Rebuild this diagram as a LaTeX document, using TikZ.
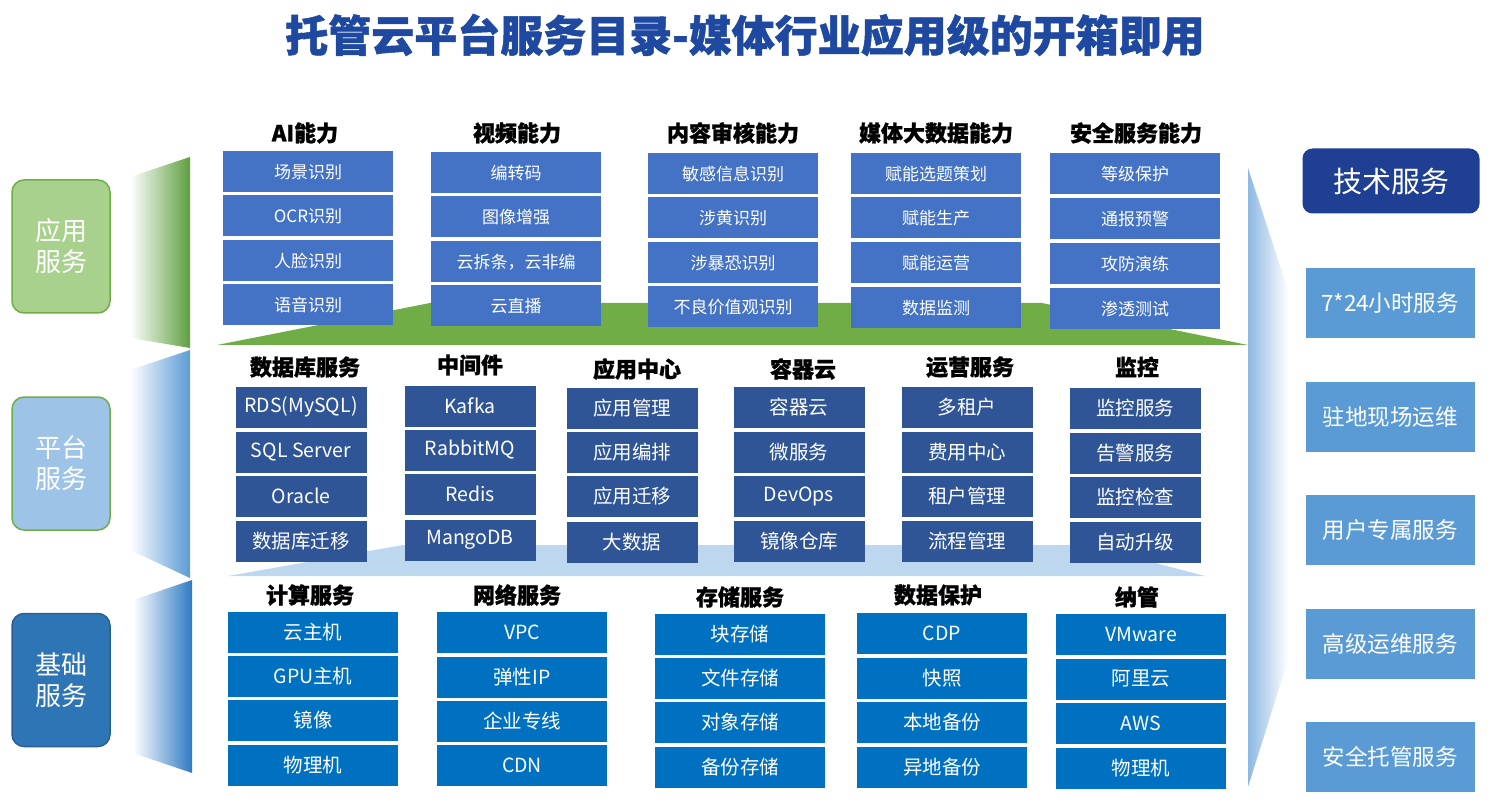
\documentclass[tikz,border=0pt]{standalone}
\usepackage{fontspec}
\setmainfont{Noto Sans CJK SC}
\newfontfamily\heavyfont{Noto Sans CJK SC}[BoldFeatures={FakeBold=1.2}]
\definecolor{titleblue}{HTML}{1F49A0}
\definecolor{appblue}{HTML}{4472C4}
\definecolor{platblue}{HTML}{2F5597}
\definecolor{baseblue}{HTML}{0070C0}
\definecolor{techdark}{HTML}{1F3F93}
\definecolor{techlight}{HTML}{5B9BD5}
\definecolor{leafgreen}{HTML}{70AD47}
\definecolor{palegreen}{HTML}{A9D18E}
\definecolor{paleblue}{HTML}{9DC3E6}
\definecolor{mistblue}{HTML}{BDD7EE}
\definecolor{sideblue}{HTML}{2E75B6}
\definecolor{sideedge}{HTML}{2A5F96}
\definecolor{wedgegreen}{HTML}{5E9F3F}
\definecolor{wedgeblue}{HTML}{5B9BD5}
\definecolor{wedgedeep}{HTML}{2F7BC4}
\definecolor{wedgeright}{HTML}{8DB8E2}

\begin{document}
\begin{tikzpicture}[x=1pt, y=-1pt,
    appbox/.style={rectangle, fill=appblue, text=white, minimum width=170pt, minimum height=41pt, inner sep=0pt, font=\fontsize{17}{20}\selectfont},
    platbox/.style={appbox, fill=platblue, minimum width=131pt, font=\fontsize{19.5}{22}\selectfont},
    basebox/.style={appbox, fill=baseblue, font=\fontsize{19.5}{22}\selectfont},
    head/.style={inner sep=0pt, font=\heavyfont\bfseries\fontsize{22}{26}\selectfont},
    side/.style={rectangle, rounded corners=12pt, line width=1.5pt, minimum width=98pt, minimum height=133pt, text=white, align=center, font=\fontsize{26}{31}\selectfont},
    tech/.style={rectangle, fill=techlight, text=white, minimum width=169pt, minimum height=70pt, inner sep=0pt, font=\fontsize{22.5}{26}\selectfont}]
    \useasboundingbox (0,0) rectangle (1489,802);

    % Wedges and bases
    \shade[left color=white, right color=wedgegreen] (130,177) -- (190,157) -- (190,348) -- (130,338) -- cycle;
    \shade[left color=white, right color=wedgeblue] (130,370) -- (190,350) -- (190,578) -- (130,550) -- cycle;
    \shade[left color=white, right color=wedgedeep] (133,600) -- (192,580) -- (192,773) -- (133,753) -- cycle;
    \shade[left color=wedgeright, right color=white] (1248,168) -- (1288,290) -- (1288,660) -- (1248,787) -- cycle;
    \fill[leafgreen] (217,345) -- (430,303) -- (1042,303) -- (1248,345) -- cycle;
    \fill[mistblue] (228,576) -- (403,545) -- (1086,545) -- (1205,576) -- cycle;

    % Title
    \node[text=titleblue, font=\heavyfont\bfseries\fontsize{43}{48}\selectfont] (title) at (745,35) {托管云平台服务目录-媒体行业应用级的开箱即用};

    % Side labels
    \node[side, fill=palegreen, draw=leafgreen] (appside) at (61,246.5) {应用\\服务};
    \node[side, fill=paleblue, draw=leafgreen] (platside) at (61,463.5) {平台\\服务};
    \node[side, fill=sideblue, draw=sideedge] (baseside) at (61,680) {基础\\服务};

    % Application layer
    \node[head] (hai) at (305,133) {AI能力};
    \node[appbox] (ai1) at (308,172) {场景识别};
    \node[appbox] (ai2) at (308,216) {OCR识别};
    \node[appbox] (ai3) at (308,261) {人脸识别};
    \node[appbox] (ai4) at (308,305) {语音识别};

    \node[head] (hvid) at (517,133) {视频能力};
    \node[appbox] (vid1) at (516,173) {编转码};
    \node[appbox] (vid2) at (516,217) {图像增强};
    \node[appbox] (vid3) at (516,262) {云拆条，云非编};
    \node[appbox] (vid4) at (516,306) {云直播};

    \node[head] (haud) at (733,133) {内容审核能力};
    \node[appbox] (aud1) at (733,174) {敏感信息识别};
    \node[appbox] (aud2) at (733,218) {涉黄识别};
    \node[appbox] (aud3) at (733,263) {涉暴恐识别};
    \node[appbox] (aud4) at (733,307) {不良价值观识别};

    \node[head] (hbd) at (936,133) {媒体大数据能力};
    \node[appbox] (bd1) at (936,174) {赋能选题策划};
    \node[appbox] (bd2) at (936,218) {赋能生产};
    \node[appbox] (bd3) at (936,263) {赋能运营};
    \node[appbox] (bd4) at (936,308) {数据监测};

    \node[head] (hsec) at (1136,133) {安全服务能力};
    \node[appbox] (sec1) at (1135,174) {等级保护};
    \node[appbox] (sec2) at (1135,219) {通报预警};
    \node[appbox] (sec3) at (1135,264) {攻防演练};
    \node[appbox] (sec4) at (1135,309) {渗透测试};

    % Platform layer
    \node[head] (hdb) at (305,367) {数据库服务};
    \node[platbox] (db1) at (301,407) {RDS(MySQL)};
    \node[platbox] (db2) at (301,452) {SQL Server};
    \node[platbox] (db3) at (301,496) {Oracle};
    \node[platbox] (db4) at (301,541) {数据库迁移};

    \node[head] (hmw) at (470,365) {中间件};
    \node[platbox] (mw1) at (470,406) {Kafka};
    \node[platbox] (mw2) at (470,450) {RabbitMQ};
    \node[platbox] (mw3) at (470,494) {Redis};
    \node[platbox] (mw4) at (470,540) {MangoDB};

    \node[head] (hac) at (637,369) {应用中心};
    \node[platbox] (ac1) at (632,408) {应用管理};
    \node[platbox] (ac2) at (632,452) {应用编排};
    \node[platbox] (ac3) at (632,496) {应用迁移};
    \node[platbox] (ac4) at (632,542) {大数据};

    \node[head] (hcc) at (803,369) {容器云};
    \node[platbox] (cc1) at (799,407) {容器云};
    \node[platbox] (cc2) at (799,452) {微服务};
    \node[platbox] (cc3) at (799,496) {DevOps};
    \node[platbox] (cc4) at (799,541) {镜像仓库};

    \node[head] (hop) at (970,367) {运营服务};
    \node[platbox] (op1) at (967,407) {多租户};
    \node[platbox] (op2) at (967,452) {费用中心};
    \node[platbox] (op3) at (967,496) {租户管理};
    \node[platbox] (op4) at (967,541) {流程管理};

    \node[head] (hmon) at (1137,367) {监控};
    \node[platbox] (mon1) at (1135,408) {监控服务};
    \node[platbox] (mon2) at (1135,453) {告警服务};
    \node[platbox] (mon3) at (1135,497) {监控检查};
    \node[platbox] (mon4) at (1135,542) {自动升级};

    % Base layer
    \node[head] (hcmp) at (310,595) {计算服务};
    \node[basebox] (cmp1) at (313,632) {云主机};
    \node[basebox] (cmp2) at (313,676) {GPU主机};
    \node[basebox] (cmp3) at (313,720) {镜像};
    \node[basebox] (cmp4) at (313,765) {物理机};

    \node[head] (hnet) at (517,595) {网络服务};
    \node[basebox] (net1) at (522,632) {VPC};
    \node[basebox] (net2) at (522,677) {弹性IP};
    \node[basebox] (net3) at (522,721) {企业专线};
    \node[basebox] (net4) at (522,765) {CDN};

    \node[head] (hsto) at (740,597) {存储服务};
    \node[basebox] (sto1) at (740,634) {块存储};
    \node[basebox] (sto2) at (740,678) {文件存储};
    \node[basebox] (sto3) at (740,722) {对象存储};
    \node[basebox] (sto4) at (740,767) {备份存储};

    \node[head] (hdp) at (938,595) {数据保护};
    \node[basebox] (dp1) at (942,633) {CDP};
    \node[basebox] (dp2) at (942,678) {快照};
    \node[basebox] (dp3) at (942,722) {本地备份};
    \node[basebox] (dp4) at (942,767) {异地备份};

    \node[head] (hnm) at (1137,597) {纳管};
    \node[basebox] (nm1) at (1141,634) {VMware};
    \node[basebox] (nm2) at (1141,679) {阿里云};
    \node[basebox] (nm3) at (1141,723) {AWS};
    \node[basebox] (nm4) at (1141,768) {物理机};

    % Technical services
    \node[rectangle, rounded corners=10pt, fill=techdark, text=white, minimum width=177pt, minimum height=65pt, font=\fontsize{29}{34}\selectfont] (tech) at (1391,181) {技术服务};
    \node[tech] (t1) at (1390,303) {7*24小时服务};
    \node[tech] (t2) at (1390,417) {驻地现场运维};
    \node[tech] (t3) at (1390,530) {用户专属服务};
    \node[tech] (t4) at (1390,644) {高级运维服务};
    \node[tech] (t5) at (1390,757) {安全托管服务};
\end{tikzpicture}
\end{document}
